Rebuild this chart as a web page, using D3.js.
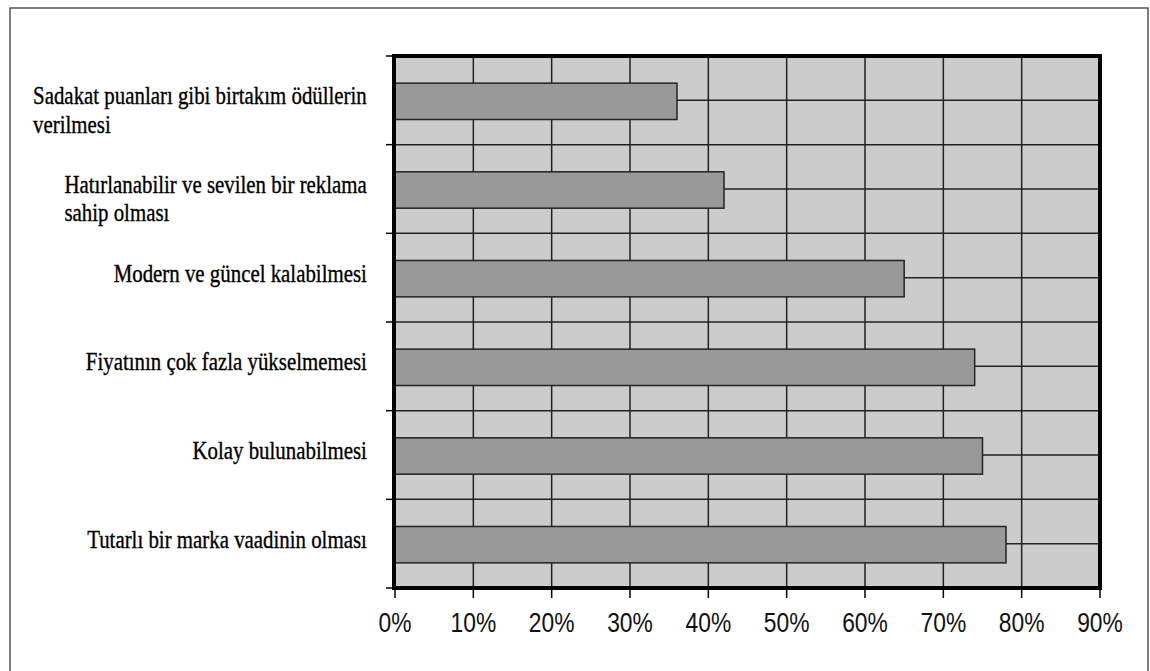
<!DOCTYPE html>
<html>
<head>
<meta charset="utf-8">
<script src="https://cdn.jsdelivr.net/npm/d3@7"></script>
<style>
  html, body { margin: 0; padding: 0; background: #ffffff; }
  svg { display: block; }
</style>
</head>
<body>
<svg id="chart" width="1150" height="671"></svg>
<script>
// Category labels (line breaks marked with \n), top to bottom
const categories = [
  "Sadakat puanları gibi birtakım ödüllerin\nverilmesi",
  "Hatırlanabilir ve sevilen bir reklama\nsahip olması",
  "Modern ve güncel kalabilmesi",
  "Fiyatının çok fazla yükselmemesi",
  "Kolay bulunabilmesi",
  "Tutarlı bir marka vaadinin olması"
];

// Share of respondents for each category
const values = [0.36, 0.42, 0.65, 0.74, 0.75, 0.78];

// Value axis ticks
const xTicks = [0, 0.1, 0.2, 0.3, 0.4, 0.5, 0.6, 0.7, 0.8, 0.9];

const svg = d3.select("#chart");
const W = 1150, H = 671;
const plot = { left: 395, right: 1100, top: 56, bottom: 588 };

const serif = "'Liberation Serif', 'Times New Roman', serif";
const sans = "'Liberation Sans', Arial, sans-serif";
const serifSX = 0.835;   // narrow setting for category labels
const sansSX = 0.83;     // narrow setting for tick labels

// Outer frame of the figure
svg.append("rect")
  .attr("x", 10).attr("y", 8)
  .attr("width", 1138).attr("height", H + 20)
  .attr("fill", "#ffffff")
  .attr("stroke", "#555555").attr("stroke-width", 1.5);

const x = d3.scaleLinear().domain([0, 0.9]).range([plot.left, plot.right]);
const band = d3.scaleBand().domain(categories).range([plot.top, plot.bottom]).padding(0);
const step = band.step();
const barH = step * 0.41;
const yCenter = c => band(c) + step / 2;

// Plot background
svg.append("rect")
  .attr("x", plot.left).attr("y", plot.top)
  .attr("width", plot.right - plot.left).attr("height", plot.bottom - plot.top)
  .attr("fill", "#cccccc");

const grid = svg.append("g").attr("stroke", "#222222").attr("stroke-width", 1.5);

// Vertical gridlines
grid.selectAll("line.vx")
  .data(xTicks.slice(1, -1))
  .join("line")
  .attr("class", "vx")
  .attr("x1", d => x(d)).attr("x2", d => x(d))
  .attr("y1", plot.top).attr("y2", plot.bottom);

// Horizontal lines at category boundaries
grid.selectAll("line.hb")
  .data(categories.slice(1))
  .join("line")
  .attr("class", "hb")
  .attr("x1", plot.left).attr("x2", plot.right)
  .attr("y1", d => band(d)).attr("y2", d => band(d));

// Horizontal lines through category centres
grid.selectAll("line.hc")
  .data(categories)
  .join("line")
  .attr("class", "hc")
  .attr("x1", plot.left).attr("x2", plot.right)
  .attr("y1", d => yCenter(d)).attr("y2", d => yCenter(d));

// Bars
svg.append("g")
  .selectAll("rect")
  .data(categories.map((c, i) => ({ c, v: values[i] })))
  .join("rect")
  .attr("x", x(0))
  .attr("y", d => yCenter(d.c) - barH / 2 + 1)
  .attr("width", d => x(d.v) - x(0))
  .attr("height", barH)
  .attr("fill", "#999999")
  .attr("stroke", "#222222")
  .attr("stroke-width", 1.5);

// Thick plot frame
svg.append("rect")
  .attr("x", plot.left - 1).attr("y", plot.top)
  .attr("width", plot.right - plot.left + 1).attr("height", plot.bottom - plot.top)
  .attr("fill", "none")
  .attr("stroke", "#000000")
  .attr("stroke-width", 4);

// Category-axis ticks at band boundaries
const yTickPos = categories.map(c => band(c)).concat([plot.bottom]);
svg.append("g").attr("stroke", "#000000").attr("stroke-width", 1.5)
  .selectAll("line")
  .data(yTickPos)
  .join("line")
  .attr("x1", plot.left - 9).attr("x2", plot.left)
  .attr("y1", d => d).attr("y2", d => d);

// Value-axis ticks
svg.append("g").attr("stroke", "#000000").attr("stroke-width", 1.5)
  .selectAll("line")
  .data(xTicks)
  .join("line")
  .attr("x1", d => x(d)).attr("x2", d => x(d))
  .attr("y1", plot.bottom).attr("y2", plot.bottom + 10);

// Value-axis labels
const pct = d3.format(".0%");
svg.append("g")
  .selectAll("text")
  .data(xTicks)
  .join("text")
  .attr("transform", d => `translate(${x(d)},632) scale(${sansSX},1)`)
  .attr("text-anchor", "middle")
  .attr("font-family", sans)
  .attr("font-size", 27.5)
  .attr("fill", "#111111")
  .text(d => pct(d));

// Category labels: lines left-aligned in a block whose right edge sits near the axis
const labelRight = 367;
const lineGap = 28.5;
const labels = svg.append("g");
categories.forEach(c => {
  const lines = c.split("\n");
  const g = labels.append("g");
  const texts = lines.map((line, i) =>
    g.append("text")
      .attr("font-family", serif)
      .attr("font-size", 25)
      .attr("fill", "#000000")
      .attr("stroke", "#000000")
      .attr("stroke-width", 0.35)
      .attr("y", i * lineGap)
      .text(line)
  );
  const blockW = d3.max(texts, t => t.node().getComputedTextLength()) * serifSX;
  g.attr("transform", `translate(${labelRight - blockW},${yCenter(c) + 4}) scale(${serifSX},1)`);
});
</script>
</body>
</html>
